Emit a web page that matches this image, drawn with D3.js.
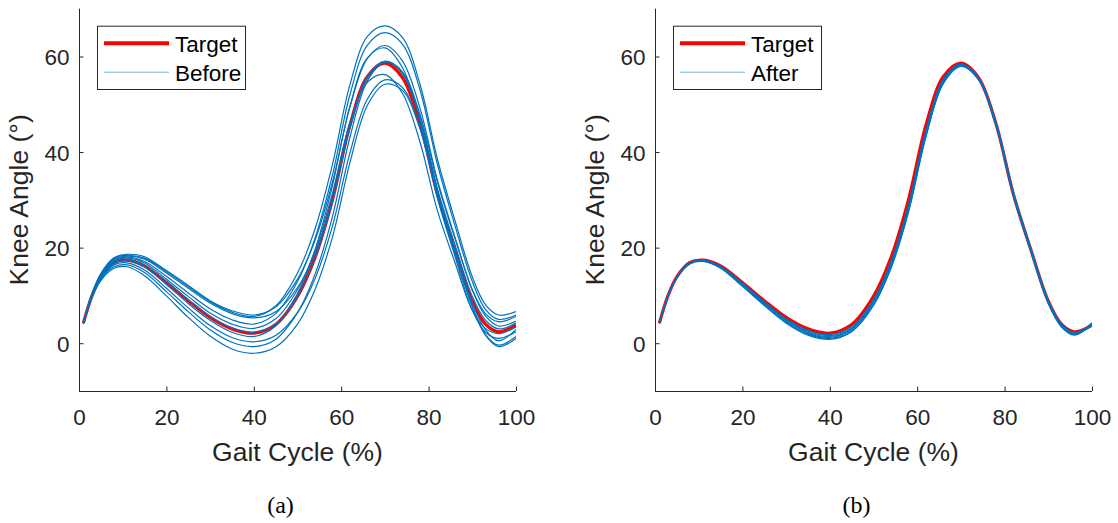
<!DOCTYPE html>
<html>
<head>
<meta charset="utf-8">
<script src="https://cdn.jsdelivr.net/npm/d3@7"></script>
<style>
  html, body { margin: 0; padding: 0; background: #fff; }
  svg { display: block; }
  text { font-family: "Liberation Sans", Arial, Helvetica, sans-serif; }
</style>
</head>
<body>
<svg id="fig" width="1118" height="523"></svg>
<script>
// Gait cycle sample points (%)
const gaitPct = [1, 3, 5, 8, 11, 15, 20, 25, 30, 35, 40, 45, 50, 54, 58, 62, 66, 70, 74, 78, 82, 86, 90, 93, 96, 100];

// Target knee angle (deg)
const targetAngle = [4.2, 10.0, 13.9, 16.9, 17.4, 16.2, 12.7, 8.9, 5.4, 3.0, 2.1, 3.9, 9.8, 17.9, 30.0, 45.6, 55.8, 58.6, 55.6, 46.0, 31.2, 19.6, 8.8, 4.0, 2.4, 3.8];

// Knee angle trials before tuning (deg)
const beforeTrials = [
  [4.3, 10.4, 14.6, 17.9, 18.6, 18.1, 15.2, 12.1, 8.9, 6.8, 5.9, 7.6, 13.4, 21.5, 33.7, 49.4, 59.6, 62.3, 59.1, 49.3, 34.2, 22.3, 11.2, 6.2, 4.5, 5.6],
  [4.3, 10.3, 14.5, 17.8, 18.4, 17.8, 15.0, 11.8, 8.7, 6.5, 5.6, 7.8, 14.7, 23.9, 37.4, 54.1, 64.2, 66.4, 64.0, 54.3, 38.6, 25.8, 13.9, 8.1, 5.9, 6.6],
  [4.3, 10.2, 14.3, 17.6, 18.2, 17.6, 14.7, 11.5, 8.4, 6.2, 5.3, 6.6, 11.6, 18.8, 29.9, 45.0, 55.6, 59.0, 56.8, 48.0, 33.7, 22.0, 11.1, 5.7, 3.6, 4.6],
  [4.3, 10.2, 14.2, 17.4, 18.0, 17.1, 14.0, 10.5, 7.2, 4.9, 4.0, 6.2, 12.9, 21.9, 35.2, 52.0, 62.4, 65.0, 62.6, 53.1, 37.5, 24.7, 12.9, 7.1, 5.0, 5.9],
  [4.2, 10.1, 14.1, 17.2, 17.8, 16.8, 13.4, 9.8, 6.3, 4.0, 3.1, 5.1, 11.2, 19.4, 31.4, 46.1, 54.6, 56.2, 52.3, 42.2, 27.8, 17.0, 6.9, 3.1, 2.0, 3.4],
  [4.2, 10.0, 14.0, 17.0, 17.5, 16.3, 12.9, 9.1, 5.6, 3.2, 2.3, 4.0, 9.7, 17.7, 29.6, 45.3, 55.9, 59.0, 56.4, 47.1, 32.4, 20.7, 9.8, 4.8, 3.0, 4.2],
  [4.2, 9.9, 13.8, 16.7, 17.2, 15.9, 12.3, 8.3, 4.8, 2.3, 1.4, 3.6, 10.4, 19.5, 33.0, 49.6, 59.7, 61.8, 57.7, 46.7, 30.5, 18.3, 6.9, 2.3, 1.0, 2.4],
  [4.1, 9.8, 13.6, 16.4, 16.8, 15.3, 11.5, 7.4, 3.7, 1.2, 0.3, 1.6, 6.4, 13.5, 24.5, 39.8, 51.1, 55.1, 53.5, 45.3, 31.2, 19.5, 8.5, 2.8, 0.5, 2.9],
  [4.1, 9.7, 13.4, 16.0, 16.4, 14.8, 10.8, 6.6, 2.8, 0.2, -0.7, 0.8, 6.4, 14.4, 26.5, 43.1, 54.9, 58.8, 56.6, 47.3, 32.0, 19.4, 7.7, 1.8, -0.4, 1.4],
  [4.0, 9.6, 13.1, 15.7, 16.0, 14.1, 9.9, 5.4, 1.5, -1.2, -2.1, -0.8, 4.0, 11.2, 22.2, 37.8, 49.8, 54.2, 52.9, 44.9, 30.8, 18.9, 7.7, 1.7, -0.7, 1.0]
];

// Knee angle trials after tuning (deg)
const afterTrials = [
  [4.2, 10.0, 13.9, 16.9, 17.4, 16.1, 12.6, 8.7, 5.1, 2.7, 1.8, 3.5, 9.2, 17.1, 29.0, 44.7, 55.3, 58.4, 55.6, 46.1, 31.4, 19.7, 8.9, 4.0, 2.3, 3.9],
  [4.2, 10.0, 13.8, 16.8, 17.3, 16.0, 12.4, 8.5, 4.9, 2.5, 1.6, 3.2, 8.8, 16.7, 28.5, 44.2, 54.9, 58.2, 55.5, 46.2, 31.5, 19.8, 8.9, 3.9, 2.1, 4.1],
  [4.2, 10.0, 13.8, 16.8, 17.3, 16.0, 12.3, 8.4, 4.8, 2.3, 1.4, 3.0, 8.7, 16.6, 28.4, 44.2, 55.0, 58.3, 55.3, 45.7, 30.9, 19.2, 8.4, 3.6, 2.0, 3.7],
  [4.2, 9.9, 13.8, 16.7, 17.2, 15.8, 12.2, 8.2, 4.6, 2.1, 1.2, 2.8, 8.3, 16.1, 27.8, 43.5, 54.5, 58.0, 55.5, 46.3, 31.7, 19.9, 8.9, 3.8, 1.9, 4.3],
  [4.2, 9.9, 13.8, 16.7, 17.2, 15.8, 12.0, 8.0, 4.4, 1.9, 1.0, 2.5, 8.0, 15.7, 27.4, 43.2, 54.4, 58.1, 55.2, 45.7, 31.0, 19.3, 8.4, 3.4, 1.7, 3.9],
  [4.1, 9.9, 13.7, 16.6, 17.1, 15.7, 11.9, 7.9, 4.2, 1.7, 0.8, 2.4, 7.9, 15.8, 27.6, 43.4, 54.4, 57.9, 55.2, 45.9, 31.2, 19.5, 8.6, 3.6, 1.8, 4.0]
];

const xTicks = [0, 20, 40, 60, 80, 100];
const yTicks = [0, 20, 40, 60];
const xDomain = [0, 100];
const yDomain = [-10, 70];

const panels = [
  { left: 79, trials: beforeTrials, legendName: "Before", caption: "(a)" },
  { left: 655, trials: afterTrials, legendName: "After", caption: "(b)" }
];

const plotW = 437, plotTop = 8.7, plotBottom = 391;
const axisColor = "#262626";
const red = "#ff0000", blue = "#0072bd";

const svg = d3.select("#fig");

panels.forEach((p, i) => {
  const x = d3.scaleLinear().domain(xDomain).range([p.left, p.left + plotW]);
  const y = d3.scaleLinear().domain(yDomain).range([plotBottom, plotTop]);
  const g = svg.append("g");

  const clipId = "clip" + i;
  svg.append("clipPath").attr("id", clipId)
    .append("rect").attr("x", p.left).attr("y", plotTop)
    .attr("width", plotW).attr("height", plotBottom - plotTop);

  const line = d3.line()
    .x((d, k) => x(gaitPct[k]))
    .y(d => y(d))
    .curve(d3.curveCatmullRom.alpha(0.5));

  const plot = g.append("g").attr("clip-path", `url(#${clipId})`);
  plot.append("path").datum(targetAngle)
    .attr("d", line).attr("fill", "none")
    .attr("stroke", red).attr("stroke-width", 3.2)
    .attr("stroke-linejoin", "round");
  plot.selectAll("path.trial").data(p.trials).join("path")
    .attr("class", "trial")
    .attr("d", line).attr("fill", "none")
    .attr("stroke", blue).attr("stroke-width", 1.2)
    .attr("stroke-linejoin", "round");

  // axes (left + bottom only, ticks pointing inward)
  const xAxis = g.append("g").attr("transform", `translate(0,${plotBottom})`)
    .call(d3.axisBottom(x).tickValues(xTicks).tickSize(-4.5).tickSizeOuter(0).tickPadding(0));
  const yAxis = g.append("g").attr("transform", `translate(${p.left},0)`)
    .call(d3.axisLeft(y).tickValues(yTicks).tickSize(-4.5).tickSizeOuter(0).tickPadding(9.5));

  [xAxis, yAxis].forEach(a => {
    a.select(".domain").attr("stroke", axisColor).attr("stroke-width", 1);
    a.selectAll(".tick line").attr("stroke", axisColor).attr("stroke-width", 1);
    a.selectAll(".tick text").attr("fill", axisColor)
      .style("font-size", "22.5px");
  });
  // y axis line spans full range
  yAxis.select(".domain").attr("d", `M0.5,${plotBottom}V${plotTop}`);
  xAxis.select(".domain").attr("d", `M0,0.5H${plotW}`)
    .attr("transform", `translate(${p.left},0)`);
  xAxis.selectAll(".tick text").attr("y", 34).attr("dy", null);
  yAxis.selectAll(".tick text").attr("dy", "0.36em");

  // axis titles
  g.append("text")
    .attr("x", p.left + plotW / 2).attr("y", 461)
    .attr("text-anchor", "middle").attr("fill", axisColor)
    .style("font-size", "26.5px").text("Gait Cycle (%)");
  g.append("text")
    .attr("transform", `translate(${p.left - 51},${(plotTop + plotBottom) / 2}) rotate(-90)`)
    .attr("text-anchor", "middle").attr("fill", axisColor)
    .style("font-size", "26.5px").text("Knee Angle (°)");

  // legend
  const lx = p.left + 18, ly = 25.7;
  const leg = g.append("g");
  leg.append("rect").attr("x", lx + 0.5).attr("y", ly + 0.5)
    .attr("width", 148).attr("height", 63.3)
    .attr("fill", "#fff").attr("stroke", axisColor).attr("stroke-width", 1);
  leg.append("line").attr("x1", lx + 7).attr("x2", lx + 72)
    .attr("y1", ly + 17.5).attr("y2", ly + 17.5)
    .attr("stroke", red).attr("stroke-width", 4);
  leg.append("line").attr("x1", lx + 7).attr("x2", lx + 72)
    .attr("y1", ly + 46.5).attr("y2", ly + 46.5)
    .attr("stroke", blue).attr("stroke-width", 1).attr("stroke-opacity", 0.55);
  leg.append("text").attr("x", lx + 78).attr("y", ly + 26)
    .attr("fill", "#000").style("font-size", "22.5px").text("Target");
  leg.append("text").attr("x", lx + 78).attr("y", ly + 54.8)
    .attr("fill", "#000").style("font-size", "22.5px").text(p.legendName);

  // panel caption
  g.append("text")
    .attr("x", p.left + plotW / 2 - 17).attr("y", 513)
    .attr("text-anchor", "middle").attr("fill", "#000")
    .style("font-family", "'Liberation Serif', 'DejaVu Serif', serif")
    .style("font-size", "24px").text(p.caption);
});
</script>
</body>
</html>
